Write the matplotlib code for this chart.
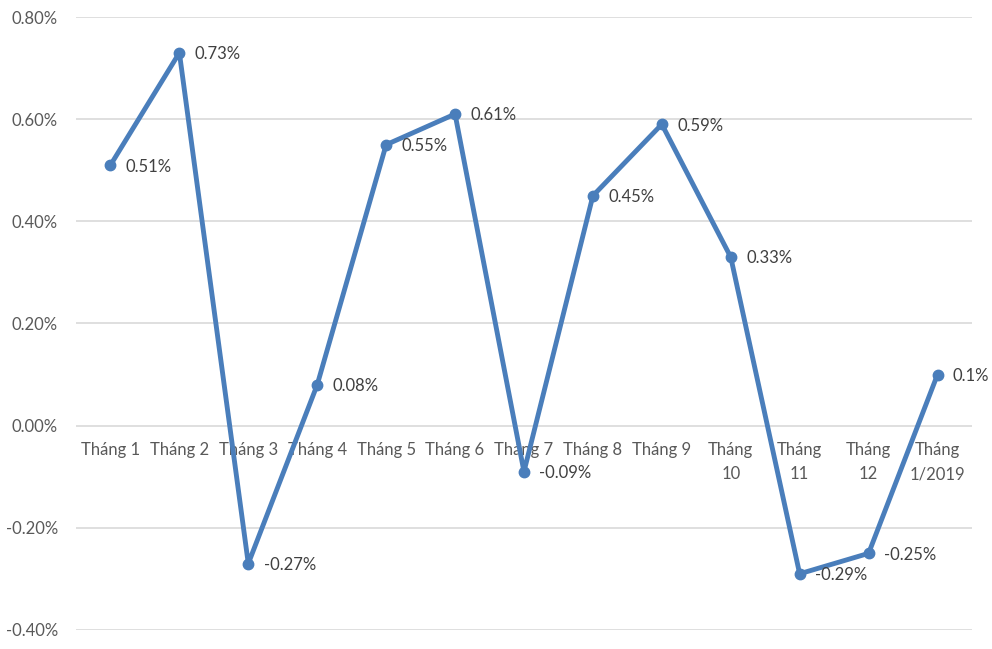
import matplotlib
matplotlib.use("Agg")
import matplotlib.pyplot as plt
from matplotlib.ticker import FuncFormatter, MultipleLocator

categories = ["Tháng 1", "Tháng 2", "Tháng 3", "Tháng 4", "Tháng 5", "Tháng 6",
              "Tháng 7", "Tháng 8", "Tháng 9", "Tháng\n10", "Tháng\n11", "Tháng\n12",
              "Tháng\n1/2019"]
values = [0.51, 0.73, -0.27, 0.08, 0.55, 0.61, -0.09, 0.45, 0.59, 0.33, -0.29, -0.25, 0.10]
value_labels = ["0.51%", "0.73%", "-0.27%", "0.08%", "0.55%", "0.61%", "-0.09%",
                "0.45%", "0.59%", "0.33%", "-0.29%", "-0.25%", "0.1%"]

plt.rcParams['font.family'] = ['Lato', 'DejaVu Sans']

fig = plt.figure(figsize=(9.92, 6.49), dpi=100)
ax = fig.add_axes([0.0766, 0.0293, 0.9032, 0.9445])

x = list(range(len(categories)))
line_color = "#4A7EBB"
ax.plot(x, values, color=line_color, lw=3.5, marker="o", markersize=7.5,
        solid_joinstyle="round", zorder=3)

for xi, v, lab in zip(x, values, value_labels):
    ax.annotate(lab, (xi, v), xytext=(11, -1), textcoords="offset points",
                ha="left", va="center", fontsize=12, color="#404040", zorder=4)

ax.set_xlim(-0.5, len(categories) - 0.5)
ax.set_ylim(-0.40, 0.80)
ax.yaxis.set_major_locator(MultipleLocator(0.2))
ax.yaxis.set_major_formatter(FuncFormatter(lambda v, p: f"{v:.2f}%"))
ax.grid(axis="y", color="#D9D9D9", lw=1.2)
ax.set_axisbelow(True)

for s in ["left", "right", "top"]:
    ax.spines[s].set_visible(False)
ax.spines["bottom"].set_position(("data", 0))
ax.spines["bottom"].set_visible(False)

ax.set_xticks(x)
ax.set_xticklabels(categories, fontsize=12, color="#595959", linespacing=1.6)
ax.tick_params(axis="x", length=0, pad=12)
ax.tick_params(axis="y", length=0, pad=13, labelsize=12, labelcolor="#595959")

fig.savefig("out.png", dpi=100)
